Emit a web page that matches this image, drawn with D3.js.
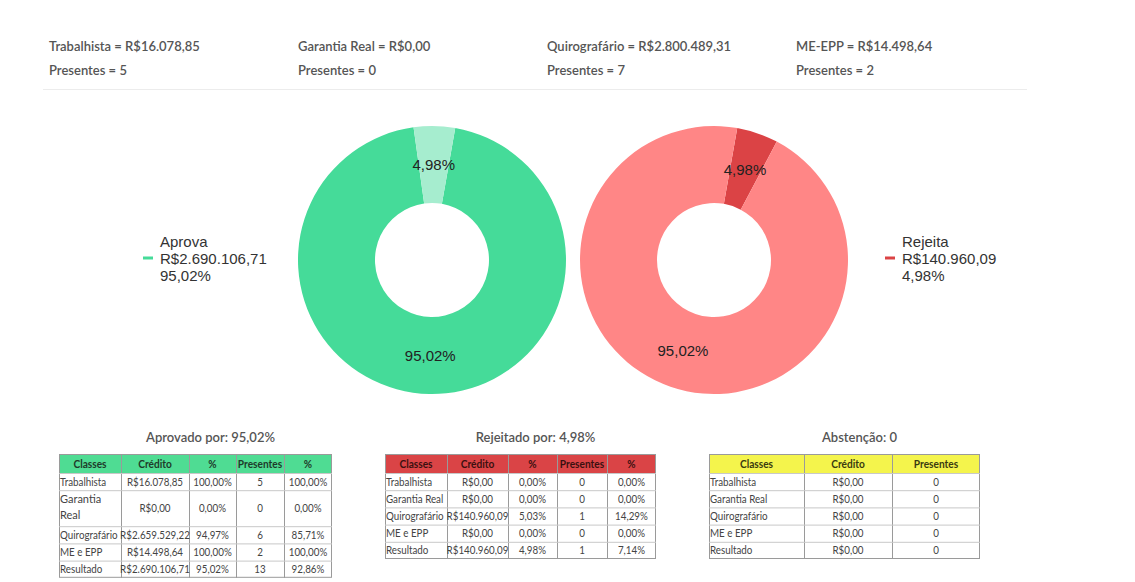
<!DOCTYPE html>
<html><head><meta charset="utf-8">
<script src="https://cdn.jsdelivr.net/npm/d3@7"></script>
<style>
html,body{margin:0;padding:0;background:#fff;}
svg{display:block;}
</style></head>
<body>
<svg id="c" width="1135" height="582"></svg>
<script>
// ---------- DATA ----------
const headerClasses = ["Trabalhista", "Garantia Real", "Quirografário", "ME-EPP"];
const headerCredits = ["R$16.078,85", "R$0,00", "R$2.800.489,31", "R$14.498,64"];
const headerPresentes = [5, 0, 7, 2];

const voteLabels = ["Aprova", "Rejeita"];
const voteValues = [2690106.71, 140960.09];
const voteValueText = ["R$2.690.106,71", "R$140.960,09"];
const votePctText = ["95,02%", "4,98%"];

const tableClasses = ["Trabalhista", "Garantia Real", "Quirografário", "ME e EPP", "Resultado"];

const aprovTitle = "Aprovado por: 95,02%";
const aprovCredito = ["R$16.078,85", "R$0,00", "R$2.659.529,22", "R$14.498,64", "R$2.690.106,71"];
const aprovPctCredito = ["100,00%", "0,00%", "94,97%", "100,00%", "95,02%"];
const aprovPresentes = [5, 0, 6, 2, 13];
const aprovPctPresentes = ["100,00%", "0,00%", "85,71%", "100,00%", "92,86%"];

const rejTitle = "Rejeitado por: 4,98%";
const rejCredito = ["R$0,00", "R$0,00", "R$140.960,09", "R$0,00", "R$140.960,09"];
const rejPctCredito = ["0,00%", "0,00%", "5,03%", "0,00%", "4,98%"];
const rejPresentes = [0, 0, 1, 0, 1];
const rejPctPresentes = ["0,00%", "0,00%", "14,29%", "0,00%", "7,14%"];

const absTitle = "Abstenção: 0";
const absCredito = ["R$0,00", "R$0,00", "R$0,00", "R$0,00", "R$0,00"];
const absPresentes = [0, 0, 0, 0, 0];

const colHeadersFull = ["Classes", "Crédito", "%", "Presentes", "%"];
const colHeadersAbs = ["Classes", "Crédito", "Presentes"];

// ---------- DRAW ----------
const svg = d3.select("#c");
const tFont = "Lato, 'Open Sans', sans-serif";
const cFont = "'Liberation Sans', Arial, sans-serif";

function condense(sel, f) {
  sel.each(function () {
    const w = this.getComputedTextLength();
    if (w > 0) d3.select(this).attr("textLength", w * f).attr("lengthAdjust", "spacingAndGlyphs");
  });
}

// header summary
const hx = d3.scalePoint().domain(d3.range(4)).range([49, 796]);
const hg = svg.append("g");
hg.selectAll("text.l1").data(headerClasses).join("text")
  .attr("x", (d, i) => hx(i)).attr("y", 51)
  .attr("font-family", tFont).attr("font-size", 13).attr("font-weight", 600).attr("fill", "#555")
  .text((d, i) => `${d} = ${headerCredits[i]}`);
hg.selectAll("text.l2").data(headerPresentes).join("text")
  .attr("x", (d, i) => hx(i)).attr("y", 75)
  .attr("font-family", tFont).attr("font-size", 13).attr("font-weight", 600).attr("fill", "#555")
  .text(d => `Presentes = ${d}`);
svg.append("line").attr("x1", 43).attr("x2", 1027).attr("y1", 89.5).attr("y2", 89.5)
  .attr("stroke", "#ececec").attr("stroke-width", 1);

// donuts
const R = 134, r0 = 57;
const deg = Math.PI / 180;
const pie = d3.pie().sort(null).value(d => d.v).startAngle(10 * deg).endAngle(370 * deg);
const arc = d3.arc().innerRadius(r0).outerRadius(R);
const labArc = d3.arc().innerRadius((R + r0) / 2).outerRadius((R + r0) / 2);

function donut(cx, cy, order, colors) {
  const data = order.map(i => ({ v: voteValues[i], pct: votePctText[i], i }));
  const g = svg.append("g").attr("transform", `translate(${cx},${cy})`);
  const arcs = pie(data);
  g.selectAll("path").data(arcs).join("path")
    .attr("d", arc).attr("fill", (d, k) => colors[k]);
  g.selectAll("text").data(arcs).join("text")
    .attr("transform", d => `translate(${labArc.centroid(d)})`)
    .attr("text-anchor", "middle").attr("dy", "0.35em")
    .attr("font-family", cFont).attr("font-size", 15).attr("fill", "#222")
    .text(d => d.data.pct);
}
donut(432, 260, [0, 1], ["#45DB99", "#A6EDCF"]);
donut(714, 260, [1, 0], ["#DB4345", "#FF8686"]);

// legends
function legend(x, y, i, color) {
  const g = svg.append("g");
  g.append("line").attr("x1", x).attr("x2", x + 10).attr("y1", y).attr("y2", y)
    .attr("stroke", color).attr("stroke-width", 3);
  const lines = [voteLabels[i], voteValueText[i], votePctText[i]];
  g.selectAll("text").data(lines).join("text")
    .attr("x", x + 17).attr("y", (d, k) => y - 11 + k * 17)
    .attr("font-family", cFont).attr("font-size", 15).attr("fill", "#333")
    .text(d => d);
}
legend(143, 258, 0, "#45DB99");
legend(885, 258, 1, "#DB4345");

// tables
function table(opts) {
  const { x0, colW, headers, cols, headColor, headText, title, wrapRows } = opts;
  const g = svg.append("g");
  const totalW = d3.sum(colW);
  g.append("text").attr("x", x0 + totalW / 2 + 15).attr("y", 442).attr("text-anchor", "middle")
    .attr("font-family", tFont).attr("font-size", 13).attr("font-weight", 600).attr("fill", "#555")
    .text(title);
  const xs = [x0]; colW.forEach(w => xs.push(xs[xs.length - 1] + w));
  const headTop = 454, headH = 19;
  const rowH = tableClasses.map((d, i) => (wrapRows && wrapRows.includes(i)) ? 36 : 17.2);
  const ys = [headTop + headH]; rowH.forEach(h => ys.push(ys[ys.length - 1] + h));
  // header
  g.append("rect").attr("x", x0).attr("y", headTop).attr("width", totalW).attr("height", headH)
    .attr("fill", headColor);
  g.selectAll("text.h").data(headers).join("text").attr("class", "h")
    .attr("x", (d, k) => (xs[k] + xs[k + 1]) / 2).attr("y", headTop + 13.5)
    .attr("text-anchor", "middle")
    .attr("font-family", tFont).attr("font-size", 11).attr("font-weight", 700).attr("fill", headText)
    .text(d => d)
    .call(condense, 0.92);
  // grid
  const bottom = ys[ys.length - 1];
  g.append("rect").attr("x", x0 + 0.5).attr("y", headTop + 0.5).attr("width", totalW - 1)
    .attr("height", bottom - headTop - 1).attr("fill", "none").attr("stroke", "#9a9a9a");
  g.selectAll("line.v").data(xs.slice(1, -1)).join("line")
    .attr("x1", d => d + 0.5).attr("x2", d => d + 0.5).attr("y1", headTop).attr("y2", bottom)
    .attr("stroke", "#9a9a9a");
  g.selectAll("line.hh").data(ys.slice(0, -1)).join("line")
    .attr("x1", x0).attr("x2", x0 + totalW).attr("y1", d => d + 0.5).attr("y2", d => d + 0.5)
    .attr("stroke", "#c8c8c8");
  // cells
  const cells = [];
  tableClasses.forEach((c, ri) => {
    cols.forEach((arr, ci) => {
      cells.push({ ri, ci, v: String(arr[ri]) });
    });
  });
  const wrapped = d => d.ci === 0 && wrapRows && wrapRows.includes(d.ri);
  const ct = g.selectAll("text.c").data(cells).join("text").attr("class", "c")
    .attr("font-family", tFont).attr("font-size", 11).attr("fill", "#444")
    .attr("text-anchor", d => d.ci === 0 ? "start" : "middle")
    .attr("x", d => d.ci === 0 ? xs[0] + 1 : (xs[d.ci] + xs[d.ci + 1]) / 2)
    .attr("y", d => (ys[d.ri] + ys[d.ri + 1]) / 2 + 4)
    .each(function (d) {
      const t = d3.select(this);
      if (wrapped(d)) {
        const words = d.v.split(" ");
        t.attr("y", ys[d.ri] + 13);
        words.forEach((w, k) => t.append("tspan").attr("x", xs[0] + 1).attr("dy", k ? 16 : 0).text(w));
      } else t.text(d.v);
    });
  ct.filter(d => !wrapped(d)).call(condense, 0.89);
}
table({ x0: 59, colW: [62, 68, 47, 48, 48], headers: colHeadersFull,
  cols: [tableClasses, aprovCredito, aprovPctCredito, aprovPresentes, aprovPctPresentes],
  headColor: "#4FDC93", headText: "#1e3a2a", title: aprovTitle, wrapRows: [1] });
table({ x0: 385, colW: [62, 61, 49, 50, 49], headers: colHeadersFull,
  cols: [tableClasses, rejCredito, rejPctCredito, rejPresentes, rejPctPresentes],
  headColor: "#DA4446", headText: "#3a1010", title: rejTitle });
table({ x0: 709, colW: [95, 88, 88], headers: colHeadersAbs,
  cols: [tableClasses, absCredito, absPresentes],
  headColor: "#F4F44C", headText: "#3a3a10", title: absTitle });
</script>
</body></html>
